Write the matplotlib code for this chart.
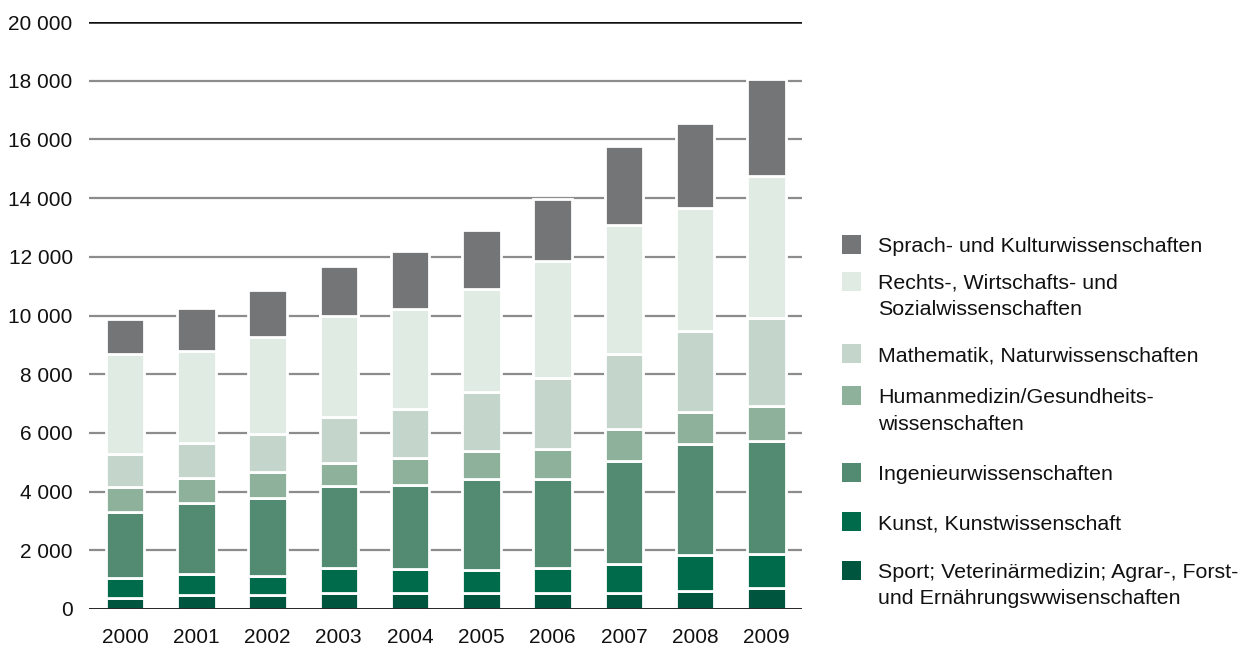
import matplotlib.pyplot as plt
from matplotlib.patches import Rectangle

plt.rcParams["font.family"] = ["Liberation Sans", "DejaVu Sans"]

years = ["2000", "2001", "2002", "2003", "2004", "2005", "2006", "2007", "2008", "2009"]

# segment heights, bottom to top
sport = [390, 470, 490, 560, 560, 550, 560, 530, 600, 700]
kunst = [650, 710, 640, 820, 800, 790, 820, 1000, 1250, 1180]
ingenieur = [2260, 2420, 2640, 2800, 2850, 3100, 3060, 3520, 3780, 3830]
humanmedizin = [840, 860, 890, 810, 920, 930, 1020, 1080, 1090, 1210]
mathematik = [1150, 1210, 1300, 1550, 1700, 2010, 2420, 2560, 2760, 2990]
rechts = [3390, 3120, 3310, 3460, 3400, 3520, 3970, 4410, 4190, 4850]
sprach = [1200, 1450, 1610, 1680, 1970, 2000, 2120, 2670, 2890, 3290]

series = [sport, kunst, ingenieur, humanmedizin, mathematik, rechts, sprach]
colors = ["#00553e", "#006b4b", "#528b71", "#8db19a", "#c4d6cb", "#e0ebe4", "#747577"]
labels = [
    "Sport; Veterinärmedizin; Agrar-, Forst-\nund Ernährungswwisenschaften",
    "Kunst, Kunstwissenschaft",
    "Ingenieurwissenschaften",
    "Humanmedizin/Gesundheits-\nwissenschaften",
    "Mathematik, Naturwissenschaften",
    "Rechts-, Wirtschafts- und\nSozialwissenschaften",
    "Sprach- und Kulturwissenschaften",
]
yticks = [0, 2000, 4000, 6000, 8000, 10000, 12000, 14000, 16000, 18000, 20000]

W, H = 1244, 649
fig = plt.figure(figsize=(W / 100, H / 100), dpi=100)
ax = fig.add_axes([89.4 / W, 1 - 609 / H, 712.6 / W, 587 / H])

for v in yticks[1:-1]:
    ax.axhline(v, color="#8c8c8c", lw=1.6, zorder=0)
ax.axhline(20000, color="#111111", lw=1.8, zorder=0)

x = list(range(len(years)))
bottom = [0] * len(years)
for vals, c in zip(series, colors):
    ax.bar(x, vals, bottom=bottom, width=0.54, color=c, edgecolor="white",
           linewidth=2, zorder=2)
    bottom = [b + v for b, v in zip(bottom, vals)]
ax.axhline(0, color="#111111", lw=2, zorder=3)

ax.set_xlim(-0.5, len(years) - 0.5)
ax.set_ylim(0, 20000)
ax.set_yticks(yticks)
ax.set_yticklabels([f"{v:,}".replace(",", " ") for v in yticks])
ax.set_xticks(x)
ax.set_xticklabels(years)
ax.tick_params(axis="y", length=0, pad=12, labelsize=15, labelcolor="#111111")
ax.tick_params(axis="x", length=0, pad=14, labelsize=15, labelcolor="#111111")
for s in ax.spines.values():
    s.set_visible(False)

# legend, drawn by hand (top entry first)
rows = [244, 281, 353, 395, 472, 521, 570]
for yc, c, lab in zip(rows, colors[::-1], labels[::-1]):
    fig.patches.append(Rectangle((842 / W, 1 - (yc + 9.5) / H), 19 / W, 19 / H,
                                 transform=fig.transFigure, facecolor=c,
                                 edgecolor="none"))
    fig.text(878 / W, 1 - (yc - 7) / H, lab, fontsize=15.4, color="#111111",
             va="top", ha="left", linespacing=1.5)

fig.savefig("out.png", dpi=100)
